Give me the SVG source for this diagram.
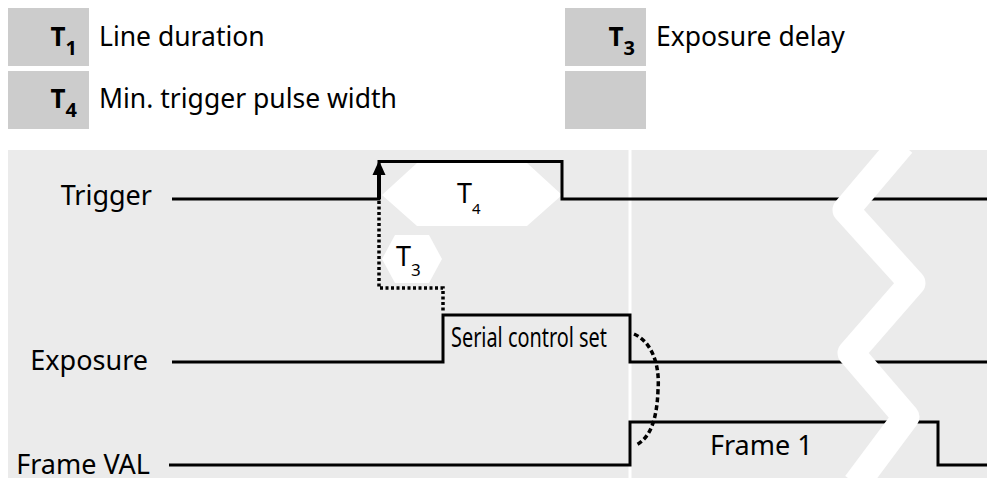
<svg xmlns="http://www.w3.org/2000/svg" width="995" height="478" viewBox="0 0 995 478">
  <defs>
    <style>
      .key { fill: #cccccc; }
      .lg { font-family: "Noto Sans", "Open Sans", sans-serif; font-size: 26.5px; fill: #000; }
      .lgb { font-family: "Noto Sans", "Open Sans", sans-serif; font-size: 26px; font-weight: bold; fill: #000; }
      .lbl { font-family: "Noto Sans", "Open Sans", sans-serif; font-size: 27px; fill: #000; }
      .sig { fill: none; stroke: #000; stroke-width: 3; stroke-linejoin: miter; }
      .dot { fill: none; stroke: #000; stroke-width: 3.5; stroke-dasharray: 3 2.5; }
      .dash { fill: none; stroke: #000; stroke-width: 3.5; stroke-dasharray: 5 3; }
      .hex { fill: #ffffff; }
    </style>
  </defs>

  <rect x="0" y="0" width="995" height="478" fill="#ffffff"/>

  <!-- Legend -->
  <g id="legend-t1">
    <rect class="key" x="8" y="8" width="81" height="58"/>
    <text class="lgb" x="77" y="46" text-anchor="end">T<tspan font-size="20" dy="9">1</tspan></text>
    <text class="lg" x="99" y="46">Line duration</text>
  </g>
  <g id="legend-t4">
    <rect class="key" x="8" y="71" width="81" height="58"/>
    <text class="lgb" x="77" y="108" text-anchor="end">T<tspan font-size="20" dy="9">4</tspan></text>
    <text class="lg" x="99" y="108">Min. trigger pulse width</text>
  </g>
  <g id="legend-t3">
    <rect class="key" x="565" y="8" width="81" height="58"/>
    <text class="lgb" x="635" y="46" text-anchor="end">T<tspan font-size="20" dy="9">3</tspan></text>
    <text class="lg" x="656" y="46">Exposure delay</text>
  </g>
  <g id="legend-empty">
    <rect class="key" x="565" y="71" width="81" height="58"/>
  </g>

  <!-- Timing panel -->
  <g id="panel">
    <rect x="8" y="150" width="979" height="328" fill="#ebebeb"/>
    <line x1="630" y1="150" x2="630" y2="478" stroke="#ffffff" stroke-width="3"/>
  </g>

  <g id="label-trigger"><text class="lbl" x="152" y="205" text-anchor="end">Trigger</text></g>
  <g id="label-exposure"><text class="lbl" x="148" y="370" text-anchor="end">Exposure</text></g>
  <g id="label-frameval"><text class="lbl" x="150" y="474" text-anchor="end">Frame VAL</text></g>

  <g id="t4">
    <polygon class="hex" points="382,195 417,163 527,163 562,195 527,226 417,226"/>
    <text class="lbl" x="457" y="203" font-size="28">T<tspan font-size="15" dy="11">4</tspan></text>
  </g>
  <g id="t3">
    <polygon class="hex" points="382,259 395,235 429,235 442,259 429,283 395,283"/>
    <text class="lbl" x="396" y="266" font-size="28">T<tspan font-size="17" dy="10">3</tspan></text>
  </g>

  <g id="signal-trigger">
    <path class="sig" d="M172,199 H379 V161.5 H562 V199 H987"/>
  </g>
  <g id="signal-exposure">
    <path class="sig" d="M172,362 H443 V315 H630 V362 H987"/>
    <text class="lbl" x="451" y="347" font-size="28" textLength="156" lengthAdjust="spacingAndGlyphs">Serial control set</text>
  </g>
  <g id="signal-frameval">
    <path class="sig" d="M169,465 H630 V422 H938 V465 H987"/>
    <text class="lbl" x="710" y="455">Frame 1</text>
  </g>

  <g id="connectors">
    <line x1="379" y1="199" x2="379" y2="172" stroke="#000" stroke-width="4"/>
    <path d="M372.5,175 L379,160.5 L385.5,175 Z" fill="#000"/>
    <path class="dot" d="M379,201 V288 H443 V313"/>
    <path class="dash" d="M634,334 C652,342 660,365 658,390 C657,420 650,438 636,445"/>
  </g>

  <g id="break">
    <polyline points="902,144 846,210 912,283 851,353 906,417 856,484" fill="none" stroke="#ffffff" stroke-width="27" stroke-linejoin="round"/>
  </g>
</svg>
